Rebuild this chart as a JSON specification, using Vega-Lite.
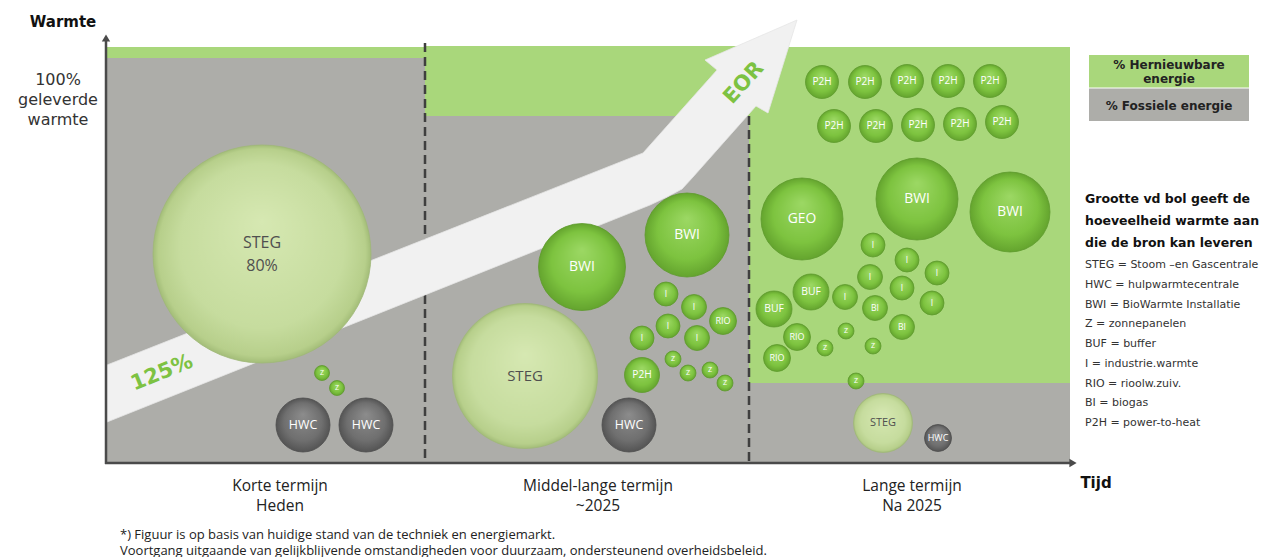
{
  "$schema": "https://vega.github.io/schema/vega-lite/v6.json",
  "width": 1274,
  "height": 557,
  "padding": 0,
  "autosize": {"type": "none"},
  "background": "white",
  "config": {"view": {"stroke": null}},
  "resolve": {"scale": {"size": "independent"}},
  "datasets": {
    "green": [
      {"x": 107, "x2": 425, "y": 47, "y2": 58},
      {"x": 425, "x2": 749, "y": 46, "y2": 116},
      {"x": 749, "x2": 1070, "y": 47, "y2": 383},
      {"x": 1089, "x2": 1249, "y": 55, "y2": 87.5}
    ],
    "gray": [
      {"x": 107, "x2": 425, "y": 58, "y2": 462},
      {"x": 425, "x2": 749, "y": 116, "y2": 462},
      {"x": 749, "x2": 1070, "y": 383, "y2": 462},
      {"x": 1089, "x2": 1249, "y": 88.5, "y2": 121}
    ],
    "dashes": [
      {"x": 425, "y": 43, "y2": 462},
      {"x": 749, "y": 116, "y2": 462}
    ],
    "axes": [
      {"x": 106, "x2": 106, "y": 40, "y2": 464},
      {"x": 105, "x2": 1070, "y": 463, "y2": 463}
    ],
    "arrowUp": [{"x": 106, "y": 38}],
    "arrowRight": [{"x": 1073, "y": 463}],
    "arrow": [
      {"i": 1, "x": 107, "y": 422},
      {"i": 2, "x": 107, "y": 365},
      {"i": 3, "x": 643, "y": 153},
      {"i": 4, "x": 717, "y": 70},
      {"i": 5, "x": 705, "y": 60},
      {"i": 6, "x": 797, "y": 20},
      {"i": 7, "x": 768, "y": 113},
      {"i": 8, "x": 756, "y": 106},
      {"i": 9, "x": 693, "y": 177},
      {"i": 10, "x": 682, "y": 189},
      {"i": 11, "x": 667, "y": 197},
      {"i": 12, "x": 650, "y": 205}
    ],
    "bubbles": [
      {"x": 262, "y": 254, "d": 218, "label": "STEG\n80%", "kind": "light"},
      {"x": 322, "y": 373, "d": 15, "label": "Z", "kind": "green"},
      {"x": 337, "y": 388, "d": 15, "label": "Z", "kind": "green"},
      {"x": 303, "y": 425, "d": 54, "label": "HWC", "kind": "gray"},
      {"x": 366, "y": 425, "d": 54, "label": "HWC", "kind": "gray"},

      {"x": 582, "y": 267, "d": 87, "label": "BWI", "kind": "green"},
      {"x": 687, "y": 235, "d": 84, "label": "BWI", "kind": "green"},
      {"x": 525, "y": 376, "d": 145, "label": "STEG", "kind": "light"},
      {"x": 629, "y": 425, "d": 54, "label": "HWC", "kind": "gray"},
      {"x": 642, "y": 375, "d": 35, "label": "P2H", "kind": "green"},
      {"x": 666, "y": 294, "d": 24, "label": "I", "kind": "green"},
      {"x": 694, "y": 307, "d": 25, "label": "I", "kind": "green"},
      {"x": 668, "y": 326, "d": 24, "label": "I", "kind": "green"},
      {"x": 642, "y": 338, "d": 24, "label": "I", "kind": "green"},
      {"x": 697, "y": 338, "d": 25, "label": "I", "kind": "green"},
      {"x": 723, "y": 321, "d": 27, "label": "RIO", "kind": "green"},
      {"x": 673, "y": 359, "d": 16, "label": "Z", "kind": "green"},
      {"x": 688, "y": 373, "d": 16, "label": "Z", "kind": "green"},
      {"x": 710, "y": 370, "d": 16, "label": "Z", "kind": "green"},
      {"x": 725, "y": 383, "d": 16, "label": "Z", "kind": "green"},

      {"x": 822, "y": 82, "d": 33, "label": "P2H", "kind": "green"},
      {"x": 865, "y": 82, "d": 33, "label": "P2H", "kind": "green"},
      {"x": 907, "y": 81, "d": 33, "label": "P2H", "kind": "green"},
      {"x": 948, "y": 81, "d": 33, "label": "P2H", "kind": "green"},
      {"x": 990, "y": 81, "d": 33, "label": "P2H", "kind": "green"},
      {"x": 834, "y": 126, "d": 33, "label": "P2H", "kind": "green"},
      {"x": 876, "y": 126, "d": 33, "label": "P2H", "kind": "green"},
      {"x": 918, "y": 125, "d": 33, "label": "P2H", "kind": "green"},
      {"x": 960, "y": 124, "d": 33, "label": "P2H", "kind": "green"},
      {"x": 1002, "y": 122, "d": 33, "label": "P2H", "kind": "green"},
      {"x": 802, "y": 219, "d": 82, "label": "GEO", "kind": "green"},
      {"x": 917, "y": 199, "d": 82, "label": "BWI", "kind": "green"},
      {"x": 1010, "y": 212, "d": 80, "label": "BWI", "kind": "green"},
      {"x": 873, "y": 245, "d": 24, "label": "I", "kind": "green"},
      {"x": 907, "y": 260, "d": 24, "label": "I", "kind": "green"},
      {"x": 870, "y": 277, "d": 25, "label": "I", "kind": "green"},
      {"x": 937, "y": 273, "d": 24, "label": "I", "kind": "green"},
      {"x": 902, "y": 288, "d": 24, "label": "I", "kind": "green"},
      {"x": 932, "y": 303, "d": 24, "label": "I", "kind": "green"},
      {"x": 845, "y": 297, "d": 25, "label": "I", "kind": "green"},
      {"x": 875, "y": 308, "d": 25, "label": "BI", "kind": "green"},
      {"x": 902, "y": 327, "d": 25, "label": "BI", "kind": "green"},
      {"x": 811, "y": 292, "d": 36, "label": "BUF", "kind": "green"},
      {"x": 774, "y": 309, "d": 36, "label": "BUF", "kind": "green"},
      {"x": 797, "y": 337, "d": 27, "label": "RIO", "kind": "green"},
      {"x": 777, "y": 358, "d": 27, "label": "RIO", "kind": "green"},
      {"x": 846, "y": 331, "d": 16, "label": "Z", "kind": "green"},
      {"x": 825, "y": 348, "d": 16, "label": "Z", "kind": "green"},
      {"x": 873, "y": 346, "d": 16, "label": "Z", "kind": "green"},
      {"x": 856, "y": 381, "d": 16, "label": "Z", "kind": "green"},
      {"x": 883, "y": 423, "d": 59, "label": "STEG", "kind": "light"},
      {"x": 938, "y": 438, "d": 27, "label": "HWC", "kind": "gray"}
    ],
    "tBold": [
      {"x": 63, "y": 22, "t": "Warmte"},
      {"x": 1096, "y": 483, "t": "Tijd"}
    ],
    "tYlab": [{"x": 58, "y": 80, "t": "100%\ngeleverde\nwarmte"}],
    "tPeriod": [
      {"x": 280, "y": 486, "t": "Korte termijn\nHeden"},
      {"x": 598, "y": 486, "t": "Middel-lange termijn\n~2025"},
      {"x": 912, "y": 486, "t": "Lange termijn\nNa 2025"}
    ],
    "tFoot": [
      {"x": 120, "y": 535, "t": "*) Figuur is op basis van huidige stand van de techniek en energiemarkt."},
      {"x": 120, "y": 551, "t": "Voortgang uitgaande van gelijkblijvende omstandigheden voor duurzaam, ondersteunend overheidsbeleid."}
    ],
    "tLegend": [
      {"x": 1169, "y": 65, "t": "% Hernieuwbare\nenergie"},
      {"x": 1169, "y": 106, "t": "% Fossiele energie"}
    ],
    "tExpl": [{"x": 1085, "y": 199, "t": "Grootte vd bol geeft de\nhoeveelheid warmte aan\ndie de bron kan leveren"}],
    "tDefs": [{"x": 1085, "y": 265, "t": "STEG = Stoom –en Gascentrale\nHWC = hulpwarmtecentrale\nBWI = BioWarmte Installatie\nZ = zonnepanelen\nBUF = buffer\nI = industrie.warmte\nRIO = rioolw.zuiv.\nBI = biogas\nP2H = power-to-heat"}],
    "t125": [{"x": 162, "y": 373, "t": "125%"}],
    "tEor": [{"x": 744, "y": 83, "t": "EOR"}]
  },
  "layer": [
    {
      "data": {"name": "green"},
      "mark": {"type": "rect", "color": "#A9D77B"},
      "encoding": {
        "x": {"field": "x", "type": "quantitative", "scale": {"domain": [0, 1274], "nice": false, "zero": false}, "axis": null},
        "x2": {"field": "x2"},
        "y": {"field": "y", "type": "quantitative", "scale": {"domain": [0, 557], "nice": false, "zero": false, "reverse": true}, "axis": null},
        "y2": {"field": "y2"}
      }
    },
    {
      "data": {"name": "gray"},
      "mark": {"type": "rect", "color": "#ADADA9"},
      "encoding": {
        "x": {"field": "x", "type": "quantitative", "scale": {"domain": [0, 1274], "nice": false, "zero": false}, "axis": null},
        "x2": {"field": "x2"},
        "y": {"field": "y", "type": "quantitative", "scale": {"domain": [0, 557], "nice": false, "zero": false, "reverse": true}, "axis": null},
        "y2": {"field": "y2"}
      }
    },
    {
      "data": {"name": "dashes"},
      "mark": {"type": "rule", "color": "#3F3F3F", "strokeWidth": 2.5, "strokeDash": [9, 5]},
      "encoding": {
        "x": {"field": "x", "type": "quantitative", "scale": {"domain": [0, 1274], "nice": false, "zero": false}, "axis": null},
        "y": {"field": "y", "type": "quantitative", "scale": {"domain": [0, 557], "nice": false, "zero": false, "reverse": true}, "axis": null},
        "y2": {"field": "y2"}
      }
    },
    {
      "data": {"name": "arrow"},
      "mark": {"type": "line", "interpolate": "linear-closed", "fill": "#F1F1F1", "stroke": "#E6E6E6", "strokeWidth": 0.8},
      "encoding": {
        "x": {"field": "x", "type": "quantitative", "scale": {"domain": [0, 1274], "nice": false, "zero": false}, "axis": null},
        "y": {"field": "y", "type": "quantitative", "scale": {"domain": [0, 557], "nice": false, "zero": false, "reverse": true}, "axis": null},
        "order": {"field": "i", "type": "quantitative"}
      }
    },
    {
      "data": {"name": "axes"},
      "mark": {"type": "rule", "color": "#4A4A4A", "strokeWidth": 2.5},
      "encoding": {
        "x": {"field": "x", "type": "quantitative", "scale": {"domain": [0, 1274], "nice": false, "zero": false}, "axis": null},
        "x2": {"field": "x2"},
        "y": {"field": "y", "type": "quantitative", "scale": {"domain": [0, 557], "nice": false, "zero": false, "reverse": true}, "axis": null},
        "y2": {"field": "y2"}
      }
    },
    {
      "data": {"name": "arrowUp"},
      "mark": {"type": "point", "shape": "triangle-up", "filled": true, "color": "#4A4A4A", "size": 70, "opacity": 1},
      "encoding": {
        "x": {"field": "x", "type": "quantitative", "scale": {"domain": [0, 1274], "nice": false, "zero": false}, "axis": null},
        "y": {"field": "y", "type": "quantitative", "scale": {"domain": [0, 557], "nice": false, "zero": false, "reverse": true}, "axis": null}
      }
    },
    {
      "data": {"name": "arrowRight"},
      "mark": {"type": "point", "shape": "triangle-right", "filled": true, "color": "#4A4A4A", "size": 70, "opacity": 1},
      "encoding": {
        "x": {"field": "x", "type": "quantitative", "scale": {"domain": [0, 1274], "nice": false, "zero": false}, "axis": null},
        "y": {"field": "y", "type": "quantitative", "scale": {"domain": [0, 557], "nice": false, "zero": false, "reverse": true}, "axis": null}
      }
    },
    {
      "data": {"name": "bubbles"},
      "transform": [{"filter": "datum.kind === 'light'"}],
      "mark": {"type": "point", "shape": "circle", "filled": true, "opacity": 1, "stroke": "#9FB878", "strokeWidth": 0.8,
        "fill": {"gradient": "radial", "x1": 0.5, "y1": 0.35, "r1": 0, "x2": 0.5, "y2": 0.5, "r2": 0.5,
          "stops": [{"offset": 0, "color": "#D6E8B2"}, {"offset": 0.75, "color": "#C6DC9E"}, {"offset": 0.95, "color": "#B7CF8B"}, {"offset": 1, "color": "#A3BD78"}]}},
      "encoding": {
        "x": {"field": "x", "type": "quantitative", "scale": {"domain": [0, 1274], "nice": false, "zero": false}, "axis": null},
        "y": {"field": "y", "type": "quantitative", "scale": {"domain": [0, 557], "nice": false, "zero": false, "reverse": true}, "axis": null},
        "size": {"field": "d", "type": "quantitative", "scale": {"type": "pow", "exponent": 2, "domain": [0, 100], "range": [0, 10000]}, "legend": null}
      }
    },
    {
      "data": {"name": "bubbles"},
      "transform": [{"filter": "datum.kind === 'gray'"}],
      "mark": {"type": "point", "shape": "circle", "filled": true, "opacity": 1, "stroke": "#4E4E4E", "strokeWidth": 0.8,
        "fill": {"gradient": "radial", "x1": 0.5, "y1": 0.3, "r1": 0, "x2": 0.5, "y2": 0.5, "r2": 0.5,
          "stops": [{"offset": 0, "color": "#8C8C8C"}, {"offset": 0.7, "color": "#6F6F6F"}, {"offset": 1, "color": "#545454"}]}},
      "encoding": {
        "x": {"field": "x", "type": "quantitative", "scale": {"domain": [0, 1274], "nice": false, "zero": false}, "axis": null},
        "y": {"field": "y", "type": "quantitative", "scale": {"domain": [0, 557], "nice": false, "zero": false, "reverse": true}, "axis": null},
        "size": {"field": "d", "type": "quantitative", "scale": {"type": "pow", "exponent": 2, "domain": [0, 100], "range": [0, 10000]}, "legend": null}
      }
    },
    {
      "data": {"name": "bubbles"},
      "transform": [{"filter": "datum.kind === 'green'"}],
      "mark": {"type": "point", "shape": "circle", "filled": true, "opacity": 1, "stroke": "#5E9A2D", "strokeWidth": 0.8,
        "fill": {"gradient": "radial", "x1": 0.5, "y1": 0.3, "r1": 0, "x2": 0.5, "y2": 0.5, "r2": 0.5,
          "stops": [{"offset": 0, "color": "#9CD864"}, {"offset": 0.7, "color": "#7DC33F"}, {"offset": 1, "color": "#64A42E"}]}},
      "encoding": {
        "x": {"field": "x", "type": "quantitative", "scale": {"domain": [0, 1274], "nice": false, "zero": false}, "axis": null},
        "y": {"field": "y", "type": "quantitative", "scale": {"domain": [0, 557], "nice": false, "zero": false, "reverse": true}, "axis": null},
        "size": {"field": "d", "type": "quantitative", "scale": {"type": "pow", "exponent": 2, "domain": [0, 100], "range": [0, 10000]}, "legend": null}
      }
    },
    {
      "data": {"name": "bubbles"},
      "transform": [{"filter": "datum.kind !== 'light'"}],
      "mark": {"type": "text", "align": "center", "baseline": "middle", "font": "Open Sans", "color": "#FFFFFF"},
      "encoding": {
        "x": {"field": "x", "type": "quantitative", "scale": {"domain": [0, 1274], "nice": false, "zero": false}, "axis": null},
        "y": {"field": "y", "type": "quantitative", "scale": {"domain": [0, 557], "nice": false, "zero": false, "reverse": true}, "axis": null},
        "text": {"field": "label"},
        "size": {"field": "d", "type": "quantitative", "scale": {"type": "linear", "domain": [15, 33, 55, 85, 145, 220], "range": [7, 10, 12.5, 14, 15, 16]}, "legend": null}
      }
    },
    {
      "data": {"name": "bubbles"},
      "transform": [{"filter": "datum.kind === 'light' && datum.d < 200"}],
      "mark": {"type": "text", "align": "center", "baseline": "middle", "font": "Open Sans", "color": "#4F4F4F"},
      "encoding": {
        "x": {"field": "x", "type": "quantitative", "scale": {"domain": [0, 1274], "nice": false, "zero": false}, "axis": null},
        "y": {"field": "y", "type": "quantitative", "scale": {"domain": [0, 557], "nice": false, "zero": false, "reverse": true}, "axis": null},
        "text": {"field": "label"},
        "size": {"field": "d", "type": "quantitative", "scale": {"type": "linear", "domain": [15, 33, 60, 85, 145, 220], "range": [7, 10, 11, 14, 15, 16]}, "legend": null}
      }
    },
    {
      "data": {"name": "bubbles"},
      "transform": [{"filter": "datum.kind === 'light' && datum.d >= 200"}],
      "mark": {"type": "text", "align": "center", "baseline": "middle", "font": "Open Sans", "fontSize": 16, "color": "#4F4F4F", "lineBreak": "\n", "lineHeight": 23, "dy": -11.5},
      "encoding": {
        "x": {"field": "x", "type": "quantitative", "scale": {"domain": [0, 1274], "nice": false, "zero": false}, "axis": null},
        "y": {"field": "y", "type": "quantitative", "scale": {"domain": [0, 557], "nice": false, "zero": false, "reverse": true}, "axis": null},
        "text": {"field": "label"}
      }
    },
    {
      "data": {"name": "tBold"},
      "mark": {"type": "text", "align": "center", "baseline": "middle", "font": "DejaVu Sans", "fontWeight": "bold", "fontSize": 15, "color": "#111111"},
      "encoding": {
        "x": {"field": "x", "type": "quantitative", "scale": {"domain": [0, 1274], "nice": false, "zero": false}, "axis": null},
        "y": {"field": "y", "type": "quantitative", "scale": {"domain": [0, 557], "nice": false, "zero": false, "reverse": true}, "axis": null},
        "text": {"field": "t"}
      }
    },
    {
      "data": {"name": "tYlab"},
      "mark": {"type": "text", "align": "center", "baseline": "middle", "font": "DejaVu Sans", "fontSize": 16, "color": "#333333", "lineBreak": "\n", "lineHeight": 20},
      "encoding": {
        "x": {"field": "x", "type": "quantitative", "scale": {"domain": [0, 1274], "nice": false, "zero": false}, "axis": null},
        "y": {"field": "y", "type": "quantitative", "scale": {"domain": [0, 557], "nice": false, "zero": false, "reverse": true}, "axis": null},
        "text": {"field": "t"}
      }
    },
    {
      "data": {"name": "tPeriod"},
      "mark": {"type": "text", "align": "center", "baseline": "middle", "font": "Open Sans", "fontSize": 15.5, "color": "#222222", "lineBreak": "\n", "lineHeight": 20},
      "encoding": {
        "x": {"field": "x", "type": "quantitative", "scale": {"domain": [0, 1274], "nice": false, "zero": false}, "axis": null},
        "y": {"field": "y", "type": "quantitative", "scale": {"domain": [0, 557], "nice": false, "zero": false, "reverse": true}, "axis": null},
        "text": {"field": "t"}
      }
    },
    {
      "data": {"name": "tFoot"},
      "mark": {"type": "text", "align": "left", "baseline": "middle", "font": "Open Sans", "fontSize": 13, "color": "#222222"},
      "encoding": {
        "x": {"field": "x", "type": "quantitative", "scale": {"domain": [0, 1274], "nice": false, "zero": false}, "axis": null},
        "y": {"field": "y", "type": "quantitative", "scale": {"domain": [0, 557], "nice": false, "zero": false, "reverse": true}, "axis": null},
        "text": {"field": "t"}
      }
    },
    {
      "data": {"name": "tLegend"},
      "mark": {"type": "text", "align": "center", "baseline": "middle", "font": "DejaVu Sans", "fontWeight": "bold", "fontSize": 12, "color": "#222222", "lineBreak": "\n", "lineHeight": 14},
      "encoding": {
        "x": {"field": "x", "type": "quantitative", "scale": {"domain": [0, 1274], "nice": false, "zero": false}, "axis": null},
        "y": {"field": "y", "type": "quantitative", "scale": {"domain": [0, 557], "nice": false, "zero": false, "reverse": true}, "axis": null},
        "text": {"field": "t"}
      }
    },
    {
      "data": {"name": "tExpl"},
      "mark": {"type": "text", "align": "left", "baseline": "middle", "font": "DejaVu Sans", "fontWeight": "bold", "fontSize": 12.5, "color": "#111111", "lineBreak": "\n", "lineHeight": 22},
      "encoding": {
        "x": {"field": "x", "type": "quantitative", "scale": {"domain": [0, 1274], "nice": false, "zero": false}, "axis": null},
        "y": {"field": "y", "type": "quantitative", "scale": {"domain": [0, 557], "nice": false, "zero": false, "reverse": true}, "axis": null},
        "text": {"field": "t"}
      }
    },
    {
      "data": {"name": "tDefs"},
      "mark": {"type": "text", "align": "left", "baseline": "middle", "font": "DejaVu Sans", "fontSize": 11, "color": "#333333", "lineBreak": "\n", "lineHeight": 19.75},
      "encoding": {
        "x": {"field": "x", "type": "quantitative", "scale": {"domain": [0, 1274], "nice": false, "zero": false}, "axis": null},
        "y": {"field": "y", "type": "quantitative", "scale": {"domain": [0, 557], "nice": false, "zero": false, "reverse": true}, "axis": null},
        "text": {"field": "t"}
      }
    },
    {
      "data": {"name": "t125"},
      "mark": {"type": "text", "align": "center", "baseline": "middle", "font": "DejaVu Sans", "fontWeight": "bold", "fontSize": 21, "color": "#7DC242", "angle": -22},
      "encoding": {
        "x": {"field": "x", "type": "quantitative", "scale": {"domain": [0, 1274], "nice": false, "zero": false}, "axis": null},
        "y": {"field": "y", "type": "quantitative", "scale": {"domain": [0, 557], "nice": false, "zero": false, "reverse": true}, "axis": null},
        "text": {"field": "t"}
      }
    },
    {
      "data": {"name": "tEor"},
      "mark": {"type": "text", "align": "center", "baseline": "middle", "font": "DejaVu Sans", "fontWeight": "bold", "fontSize": 21, "color": "#7DC242", "angle": -48},
      "encoding": {
        "x": {"field": "x", "type": "quantitative", "scale": {"domain": [0, 1274], "nice": false, "zero": false}, "axis": null},
        "y": {"field": "y", "type": "quantitative", "scale": {"domain": [0, 557], "nice": false, "zero": false, "reverse": true}, "axis": null},
        "text": {"field": "t"}
      }
    }
  ]
}
